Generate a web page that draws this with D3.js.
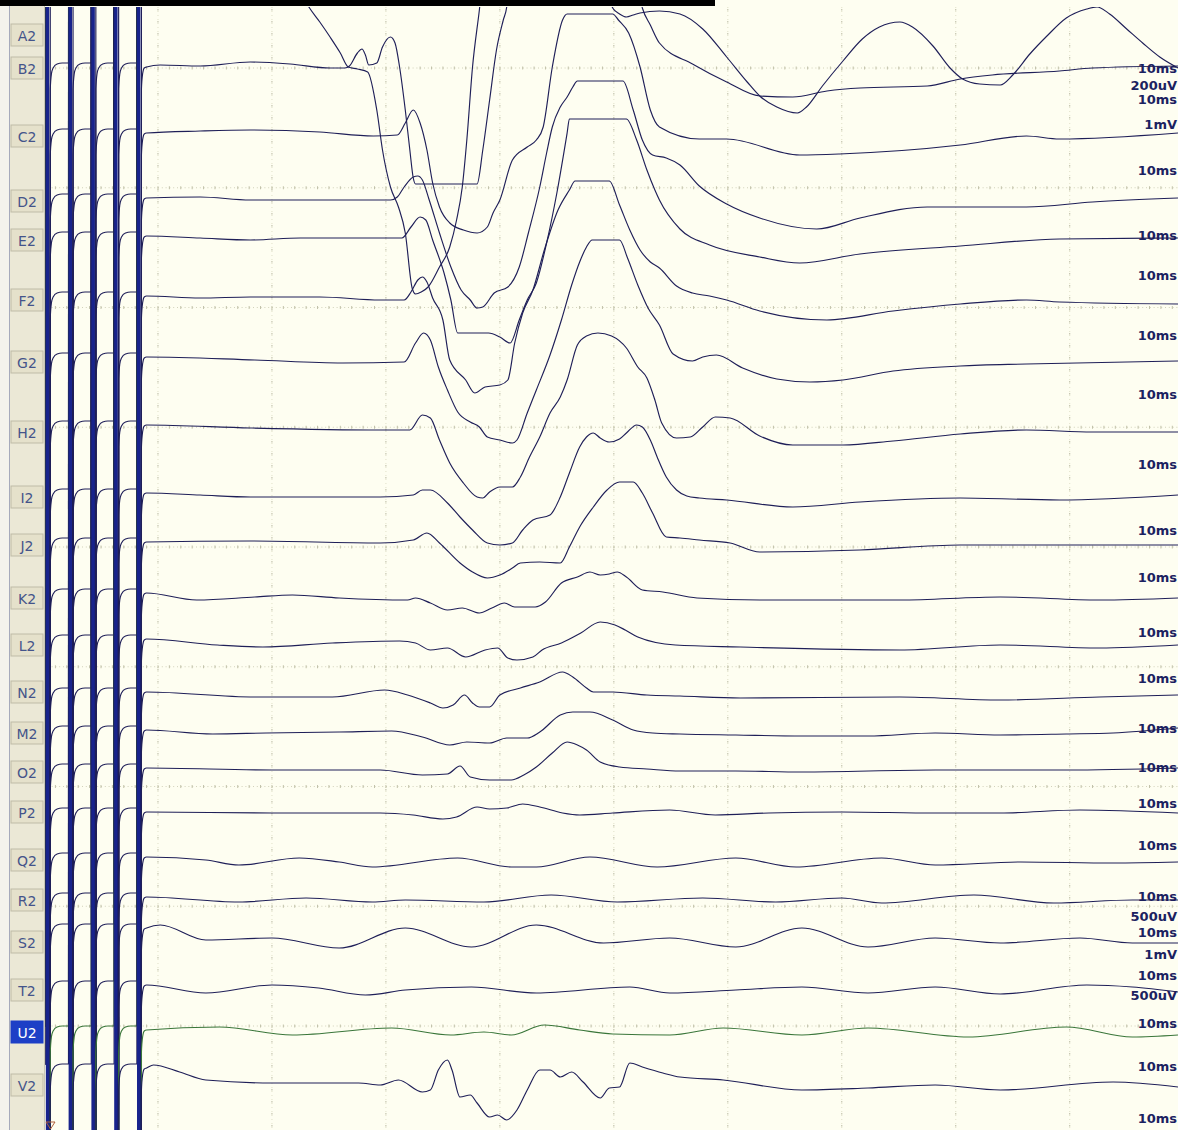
<!DOCTYPE html>
<html><head><meta charset="utf-8">
<script src="https://cdn.jsdelivr.net/npm/d3@7"></script>
<style>body{margin:0;background:#fff}svg{display:block}</style>
</head><body>
<svg id="chart" width="1178" height="1130"></svg>
<script>
// ---------------- DATA ----------------
const channels = ["A2","B2","C2","D2","E2","F2","G2","H2","I2","J2","K2","L2","N2","M2","O2","P2","Q2","R2","S2","T2","U2","V2"];
const highlighted = "U2";
// stimulus artefact times (ms) and recovery template [ms after stimulus, display units]
const artifactTimes = [0.3, 2.3, 4.3, 6.3, 8.3];
const artifactRecovery = [[0.25,-22],[0.35,-7],[0.5,-1],[0.85,3],[1.3,4],[1.85,4]];
const saturation = 1500;
// traces: [time ms, amplitude display units]
const A2 = [[9.0,80],[21.6,80],[22.5,43],[23.3,27],[24.2,13],[25.1,-2],[26.0,-18],[26.7,-32],[27.5,-34],[28.4,-37],[29.2,-75],[29.7,-115],[30.4,-152],[31.1,-172],[31.7,-198],[32.3,-253],[32.6,-259],[33.1,-257],[33.7,-252],[34.7,-232],[35.6,-212],[36.2,-185],[36.7,-152],[37.1,-105],[37.6,-32],[38.2,25],[38.6,65],[48.8,65],[49.5,40],[49.9,27],[50.5,21],[51.1,18],[51.7,20],[52.3,22],[54.0,24],[55.8,21],[57.8,6],[59.9,-22],[61.7,-47],[62.8,-61],[64.3,-72],[66.1,-78],[66.9,-72],[68.3,-51],[70.1,-26],[71.8,-4],[73.3,8],[75.1,13],[76.2,8],[78.0,-11],[79.5,-33],[80.6,-44],[82.1,-49],[83.9,-50],[85.0,-40],[86.5,-19],[88.0,-1],[89.7,17],[91.5,26],[92.4,28],[93.5,21],[95.0,6],[96.4,-8],[97.9,-22],[99.5,-33]];
const B2 = [[9.0,-1],[10.2,1],[13.7,0],[18.1,4],[21.6,2],[25.1,-2],[26.4,-2],[26.8,0],[27.5,13],[27.9,17],[28.2,11],[28.5,1],[29.2,3],[29.7,19],[30.4,29],[30.8,23],[31.2,-1],[31.7,-44],[32.1,-84],[32.4,-112],[32.6,-118],[38.0,-118],[38.5,-84],[39.1,-34],[39.7,16],[40.3,46],[40.6,59],[40.9,96],[51.8,96],[52.5,58],[53.2,41],[54.0,23],[56.9,2],[59.9,-16],[62.8,-30],[65.7,-31],[68.7,-25],[71.6,-22],[77.5,-20],[80.4,-13],[83.2,-9],[89.1,-5],[92.0,-2],[99.5,0]];
const C2 = [[9.0,0],[13.7,2],[18.1,3],[24.2,1],[28.9,-3],[31.0,-2],[31.7,10],[32.4,23],[33.0,10],[33.6,-17],[34.1,-50],[34.7,-74],[35.6,-90],[36.8,-97],[38.0,-100],[38.9,-94],[39.4,-80],[40.0,-67],[41.1,-27],[42.4,-14],[43.2,-7],[43.8,6],[44.6,66],[45.5,113],[45.9,119],[49.9,119],[50.4,113],[51.3,100],[52.3,66],[53.2,23],[54.0,6],[57.5,-6],[59.9,-6],[66.3,-22],[69.8,-21],[80.4,-12],[86.2,-3],[89.1,-6],[99.5,0]];
const D2 = [[9.0,0],[13.7,1],[18.1,-2],[22.5,-2],[30.4,-2],[31.0,1],[31.6,11],[32.4,21],[32.8,22],[33.2,18],[33.8,-2],[34.7,-35],[35.7,-69],[36.6,-92],[37.4,-102],[38.0,-110],[38.5,-109],[39.5,-95],[40.7,-89],[41.7,-69],[42.5,-35],[43.5,11],[44.1,45],[44.6,71],[45.3,91],[45.9,101],[46.4,111],[46.8,117],[50.8,117],[51.7,88],[52.5,58],[53.4,43],[54.6,40],[55.8,33],[57.5,12],[59.9,-6],[62.8,-20],[67.8,-31],[71.6,-20],[77.5,-9],[86.2,-9],[92.0,-4],[99.5,0]];
const E2 = [[9.0,1],[13.7,-1],[18.1,-3],[22.5,-1],[31.4,-1],[32.2,10],[33.0,20],[33.5,17],[34.1,-3],[35.1,-36],[35.7,-63],[36.3,-96],[37.6,-96],[39.0,-96],[40.0,-100],[40.9,-106],[41.7,-83],[42.4,-63],[43.2,-46],[44.1,-6],[45.0,44],[45.9,104],[46.1,118],[51.1,118],[52.0,97],[52.9,67],[53.6,47],[54.0,37],[55.8,8],[58.4,-8],[62.8,-20],[66.3,-26],[71.6,-17],[80.4,-9],[89.1,-2],[99.5,-1]];
const F2 = [[9.0,1],[13.7,-1],[18.1,0],[24.2,0],[29.5,-3],[31.6,-3],[32.2,5],[32.8,17],[33.2,20],[33.6,15],[34.1,-1],[35.0,-23],[35.6,-63],[37.0,-83],[37.8,-96],[38.7,-90],[40.0,-88],[40.7,-83],[41.3,-46],[42.0,-16],[42.9,7],[43.9,47],[45.1,87],[46.1,107],[46.6,116],[49.6,116],[50.5,92],[51.4,67],[52.3,47],[53.2,35],[54.0,29],[55.5,11],[56.9,4],[58.4,1],[59.9,-3],[62.8,-14],[68.7,-23],[74.5,-14],[80.4,-7],[86.2,-3],[89.1,-5],[99.5,-7]];
const G2 = [[9.0,0],[18.5,-3],[26.2,-6],[31.6,-5],[32.6,14],[33.3,24],[33.9,17],[34.6,-10],[35.4,-33],[36.3,-55],[37.4,-65],[38.2,-70],[38.9,-80],[40.0,-83],[41.1,-86],[41.5,-83],[42.4,-56],[43.2,-33],[44.4,2],[45.4,37],[46.3,72],[47.0,95],[47.6,110],[48.1,117],[50.5,117],[51.2,99],[52.1,72],[53.0,49],[54.0,32],[55.2,3],[56.9,-4],[57.8,0],[59.0,2],[61.3,-11],[64.3,-22],[67.2,-25],[70.1,-23],[74.5,-14],[80.4,-9],[86.2,-7],[99.5,-4]];
const H2 = [[9.0,2],[18.1,-1],[29.5,-3],[32.1,-3],[33.2,12],[33.9,9],[34.7,-13],[35.6,-36],[36.8,-56],[38.0,-70],[38.5,-71],[39.1,-65],[40.0,-60],[41.1,-60],[41.8,-50],[42.6,-30],[43.5,-10],[44.4,14],[45.3,30],[45.9,47],[46.8,82],[47.6,91],[48.6,94],[49.8,91],[51.1,79],[52.1,60],[52.9,49],[53.6,27],[54.2,4],[55.5,-11],[56.7,-10],[57.8,0],[58.9,10],[60.2,9],[62.8,-9],[65.7,-18],[70.1,-18],[74.5,-14],[80.4,-7],[86.2,-3],[92.0,-5],[99.5,-5]];
const I2 = [[9.0,1],[13.7,-1],[18.1,-3],[29.5,-3],[32.4,-1],[33.2,4],[33.9,4],[35.4,-9],[36.5,-23],[37.6,-36],[38.9,-49],[40.0,-51],[41.1,-49],[42.0,-36],[42.9,-26],[44.4,-21],[45.3,-3],[46.1,21],[47.0,47],[47.6,57],[48.2,61],[48.8,56],[49.6,52],[50.5,55],[51.1,61],[52.0,69],[52.5,67],[53.2,54],[53.8,37],[54.6,17],[55.5,4],[56.4,-2],[57.5,-4],[59.9,-6],[65.7,-13],[71.6,-8],[80.4,-4],[89.1,-6],[99.5,-1]];
const J2 = [[9.0,0],[18.1,1],[29.5,-1],[32.4,2],[33.6,9],[34.7,-1],[36.5,-21],[37.6,-30],[38.9,-36],[40.0,-33],[41.1,-26],[41.8,-21],[43.5,-20],[45.3,-21],[46.1,-5],[47.0,15],[48.2,35],[49.4,52],[50.5,60],[51.7,60],[52.5,49],[53.4,29],[54.6,5],[55.8,4],[57.5,2],[60.2,-1],[62.8,-10],[71.6,-8],[80.4,-3],[89.1,-3],[99.5,-3]];
const K2 = [[9.0,2],[13.4,-5],[18.5,-2],[21.8,0],[25.9,-3],[31.9,-5],[32.6,-3],[33.9,-8],[35.4,-15],[36.7,-13],[38.2,-18],[39.3,-13],[40.4,-8],[41.3,-12],[43.1,-12],[44.0,-7],[45.4,12],[46.8,18],[47.9,23],[48.8,20],[49.6,21],[50.3,23],[51.1,18],[52.5,5],[54.3,3],[57.3,-3],[62.8,-5],[75.1,-5],[83.9,-2],[92.6,-5],[99.5,-3]];
const L2 = [[9.0,2],[15.2,-4],[19.2,-6],[25.3,-2],[31.2,0],[32.6,-2],[33.9,-9],[35.4,-7],[37.0,-16],[38.7,-9],[39.8,-7],[40.7,-17],[41.5,-19],[42.9,-16],[43.7,-9],[45.4,-2],[47.1,8],[48.8,19],[50.1,16],[51.0,11],[52.1,4],[55.4,-4],[61.1,-6],[75.1,-9],[83.9,-4],[92.6,-7],[99.5,-4]];
const N2 = [[9.0,1],[18.5,-4],[25.3,-4],[29.9,3],[31.9,-2],[33.9,-10],[35.0,-15],[35.9,-12],[36.9,-2],[37.6,-10],[38.2,-14],[39.1,-14],[40.0,-2],[41.8,5],[43.5,11],[45.5,21],[46.4,16],[47.6,5],[48.2,1],[49.9,1],[52.9,-2],[55.8,-3],[61.1,-5],[75.1,-4],[83.9,-7],[92.6,-4],[99.5,-2]];
const M2 = [[9.0,1],[14.8,-3],[19.5,-2],[25.9,-1],[30.5,0],[33.2,-6],[35.6,-14],[37.1,-11],[39.1,-12],[40.6,-7],[42.4,-7],[43.5,-1],[45.3,16],[46.4,19],[47.9,19],[49.9,11],[51.7,1],[53.4,-2],[55.8,-3],[60.7,-4],[66.5,-5],[72.3,-5],[78.2,-2],[83.9,-4],[89.7,-3],[93.8,-2],[99.5,3]];
const O2 = [[9.0,1],[20.0,-1],[29.5,-1],[33.2,-6],[35.4,-5],[36.5,3],[37.4,-8],[39.1,-11],[41.0,-11],[42.1,-6],[43.2,2],[44.6,16],[45.9,27],[46.8,24],[47.6,19],[48.8,7],[50.5,2],[52.9,0],[55.8,-2],[60.7,-2],[66.5,-3],[78.2,-1],[89.7,-1],[99.5,1]];
const P2 = [[9.0,0],[20.0,-1],[29.5,-1],[32.4,-3],[35.0,-7],[36.2,-5],[38.0,5],[39.1,3],[40.6,4],[42.0,8],[43.5,5],[45.5,-1],[47.0,-3],[49.9,-1],[54.9,2],[58.9,-3],[63.6,-1],[70.0,0],[78.2,-1],[83.9,-1],[90.9,2],[99.5,-1]];
const Q2 = [[9.0,4],[14.2,1],[17.1,-4],[22.4,3],[25.9,-1],[28.8,-6],[36.3,3],[41.0,-6],[43.2,-6],[47.9,4],[53.8,-6],[60.7,3],[66.0,-6],[73.5,3],[78.2,-4],[85.7,-1],[93.8,-2],[99.5,-1]];
const R2 = [[9.0,2],[17.1,-3],[23.0,1],[28.8,-3],[31.7,-1],[38.6,-3],[44.5,4],[50.3,-3],[57.8,1],[64.2,-3],[70.0,1],[73.5,-4],[81.6,4],[88.6,-4],[95.5,-1],[99.5,-1]];
const S2 = [[9.0,8],[10.2,11],[14.2,-4],[20.0,-2],[25.9,-12],[31.7,8],[37.5,-11],[43.2,11],[49.1,-7],[54.9,-2],[60.7,-11],[66.5,8],[72.3,-11],[78.2,-2],[83.9,-7],[90.9,-2],[95.5,-7],[99.5,-7]];
const T2 = [[9.0,3],[14.2,-5],[20.0,3],[24.1,0],[28.2,-7],[31.7,-2],[37.5,1],[43.2,-5],[51.4,1],[54.9,-5],[60.7,-2],[66.5,1],[72.3,-5],[78.2,1],[83.9,-6],[91.5,3],[95.5,1],[99.5,-4]];
const U2 = [[9.0,1],[15.4,4],[21.8,-4],[30.5,3],[35.7,-4],[38.6,-1],[41.0,-4],[43.9,6],[47.0,1],[49.9,-3],[54.9,-4],[59.6,3],[66.5,-4],[72.3,3],[81.1,-6],[89.7,4],[95.5,-6],[99.5,-4]];
const V2 = [[9.0,14],[9.6,17],[11.9,10],[14.2,2],[20.0,-1],[27.6,-1],[29.5,-3],[31.1,2],[33.2,-10],[33.9,-8],[34.6,12],[35.4,22],[35.8,12],[36.5,-15],[37.4,-13],[38.0,-21],[39.1,-35],[39.8,-33],[40.6,-38],[41.5,-28],[42.4,-8],[43.5,12],[44.4,12],[45.3,5],[46.3,10],[47.3,0],[48.8,-16],[49.6,-6],[50.5,-5],[51.4,19],[52.5,15],[54.3,9],[55.8,5],[59.6,2],[66.5,-8],[72.3,-6],[78.2,-3],[83.9,-8],[93.8,0],[99.5,-5]];
const seriesList = [A2,B2,C2,D2,E2,F2,G2,H2,I2,J2,K2,L2,N2,M2,O2,P2,Q2,R2,S2,T2,U2,V2];
const gridTimes = [10,20,30,40,50,60,70,80,90];
const gridRows = [0,1,2,3,4,5,6,7,8];
const rightLabels = ["10ms","200uV","10ms","1mV","10ms","10ms","10ms","10ms","10ms","10ms","10ms","10ms","10ms","10ms","10ms","10ms","10ms","10ms","10ms","500uV","10ms","1mV","10ms","500uV","10ms","10ms","10ms"];

// ---------------- LAYOUT ----------------
const W = 1178, H = 1130;
const plotLeft = 44, plotTop = 7;
const baselinePx = [35,66,133,198,237,297,357,427,494,542,595,641,693,731,769,812,861,899,936,988,1031,1082];
const labelPx = [35,68,136,201,240,300,362,432,497,545,598,645,692,733,772,812,860,900,942,990,1032,1085];
const rightLabelPx = [68,85,99,124,170,235,275,335,394,464,530,577,632,678,728,767,803,845,896,916,932,954,975,995,1023,1066,1118];

const svg = d3.select("#chart");
const x = d3.scaleLinear().domain([0, 99.5]).range([plotLeft, W]);
const amp = d3.scaleLinear().domain([0, 100]).range([0, -100]);
const baseOf = d3.scaleOrdinal().domain(channels).range(baselinePx);
const labelOf = d3.scaleOrdinal().domain(channels).range(labelPx);
const gridY = d3.scaleLinear().domain([0, 8]).range([68, 1026]);

// background
svg.append("rect").attr("width", W).attr("height", H).attr("fill", "#fefef1");
svg.append("rect").attr("x",0).attr("y",0).attr("width",715).attr("height",6).attr("fill","#000");

// grid
const grid = svg.append("g");
gridTimes.forEach(t => {
  grid.append("line").attr("x1", x(t)).attr("x2", x(t)).attr("y1", plotTop).attr("y2", H)
    .attr("stroke", "#e0e0c8").attr("stroke-width", 1).attr("stroke-dasharray", "1,3");
  grid.append("line").attr("x1", x(t)).attr("x2", x(t)).attr("y1", plotTop + 2).attr("y2", H)
    .attr("stroke", "#b8b8a0").attr("stroke-width", 1).attr("stroke-dasharray", "1.5,10.5");
});
gridRows.forEach(r => {
  const y = gridY(r);
  grid.append("line").attr("x1", plotLeft).attr("x2", W).attr("y1", y).attr("y2", y)
    .attr("stroke", "#d2d2bb").attr("stroke-width", 1).attr("stroke-dasharray", "1,2.8");
  grid.append("g").selectAll("line").data(d3.range(1, 100)).join("line")
    .attr("x1", d => x(d)).attr("x2", d => x(d)).attr("y1", y - 1.5).attr("y2", y + 1.5)
    .attr("stroke", "#c2c2aa").attr("stroke-width", 1);
});

// right-hand scale labels
svg.append("g").selectAll("text").data(rightLabels).join("text")
  .attr("x", 1177).attr("y", (d, i) => rightLabelPx[i])
  .attr("text-anchor", "end").attr("dominant-baseline", "central")
  .attr("font-family", "'DejaVu Sans',sans-serif")
  .attr("font-weight", "bold").attr("font-size", 13).attr("fill", "#1b2260")
  .text(d => d);

// clip
svg.append("clipPath").attr("id", "plotClip").append("rect")
  .attr("x", plotLeft).attr("y", plotTop).attr("width", W - plotLeft).attr("height", H - plotTop);

function buildPoints(data) {
  const rest = data[0][1];
  const pts = [[0, rest + 3]];
  artifactTimes.forEach((tk, i) => {
    const next = i < artifactTimes.length - 1 ? artifactTimes[i + 1] - 0.15 : data[0][0];
    pts.push([tk - 0.15, rest + 4]);
    pts.push([tk - 0.1, saturation]);
    pts.push([tk + 0.2, -saturation]);
    artifactRecovery.forEach(([dt, dv]) => { if (tk + dt < next - 0.02) pts.push([tk + dt, rest + dv]); });
  });
  return pts.concat(data);
}

const traces = svg.append("g").attr("clip-path", "url(#plotClip)");
channels.forEach((ch, i) => {
  const base = baseOf(ch);
  const line = d3.line().x(d => x(d[0])).y(d => base + amp(d[1])).curve(d3.curveMonotoneX);
  traces.append("path").datum(buildPoints(seriesList[i]))
    .attr("d", line).attr("fill", "none")
    .attr("stroke", ch === highlighted ? "#3a763a" : "#1f1f58")
    .attr("stroke-width", 1.15).attr("stroke-linejoin", "round");
});

// stimulus bars
svg.append("g").selectAll("rect").data(artifactTimes).join("rect")
  .attr("x", d => x(d) - 1.6).attr("width", 3.4).attr("y", plotTop).attr("height", H - plotTop)
  .attr("fill", "#18238c");

// left panel
const panel = svg.append("g");
panel.append("rect").attr("x", 0).attr("y", 6).attr("width", 45).attr("height", H).attr("fill", "#ebe8d6");
panel.append("rect").attr("x", 0).attr("y", 6).attr("width", 9).attr("height", H).attr("fill", "#f4f3ec");
panel.append("line").attr("x1", 9.5).attr("x2", 9.5).attr("y1", 6).attr("y2", H).attr("stroke", "#a6aabb");
panel.append("line").attr("x1", 44.5).attr("x2", 44.5).attr("y1", 6).attr("y2", H).attr("stroke", "#c9c6b4");
const boxes = panel.selectAll("g.lab").data(channels).join("g").attr("class", "lab");
boxes.append("rect").attr("x", 11).attr("width", 32).attr("y", d => labelOf(d) - 11).attr("height", 22)
  .attr("fill", d => d === highlighted ? "#1d3fc6" : "#e5e1cb")
  .attr("stroke", d => d === highlighted ? "#1d3fc6" : "#bfbba7");
boxes.append("text").attr("x", 27).attr("y", d => labelOf(d) + 1)
  .attr("text-anchor", "middle").attr("dominant-baseline", "central")
  .attr("font-family", "'DejaVu Sans',sans-serif").attr("font-size", 14)
  .attr("fill", d => d === highlighted ? "#ffffff" : "#44548a").text(d => d);
// small marker bottom-left
svg.append("path").attr("d", "M46,1122 L55,1122 L50.5,1129 Z").attr("fill", "none").attr("stroke", "#b0603c");
</script>
</body></html>
